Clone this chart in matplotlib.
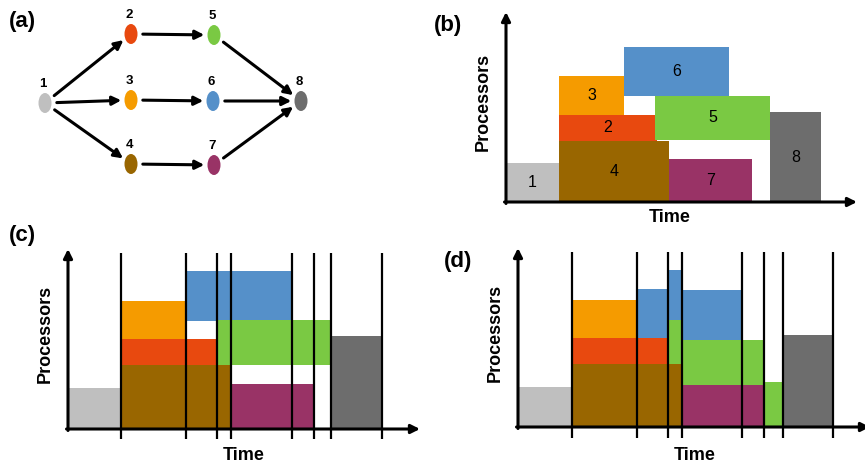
import matplotlib
matplotlib.use('Agg')
import matplotlib.pyplot as plt
from matplotlib.patches import Ellipse

plt.rcParams['font.family'] = ['Liberation Sans', 'DejaVu Sans']

W, H = 865, 466

# ---------------- data ----------------
task_colors = {1: '#BFBFBF', 2: '#E8490F', 3: '#F59B00', 4: '#996600',
               5: '#7AC943', 6: '#5590C9', 7: '#993366', 8: '#6D6D6D'}

# (a) task graph (node positions in the drawing)
node_ids = [1, 2, 3, 4, 5, 6, 7, 8]
node_x = [45, 131, 131, 131, 214, 213, 214, 301]
node_y = [103, 34, 100, 164, 35, 101, 165, 101]
edges = [(1, 2), (1, 3), (1, 4), (2, 5), (3, 6), (4, 7), (5, 8), (6, 8), (7, 8)]

# (b) schedule: task, start, end, bottom, top
b_task = [1, 4, 2, 3, 6, 5, 7, 8]
b_start = [0, 53, 53, 53, 118, 149, 163, 264]
b_end = [53, 163, 151, 118, 223, 264, 246, 315]
b_bottom = [0, 0, 61, 87, 106, 62, 0, 0]
b_top = [39, 61, 87, 126, 155, 106, 43, 90]

# (c) same schedule with event boundaries
c_task = [1, 4, 2, 3, 6, 5, 7, 8]
c_start = [0, 53, 53, 53, 118, 149, 163, 263]
c_end = [52, 163, 149, 118, 224, 263, 246, 314]
c_bottom = [0, 0, 64, 90, 108, 64, 0, 0]
c_top = [41, 64, 90, 128, 158, 109, 45, 93]
c_events = [53, 118, 149, 163, 224, 246, 263, 314]

# (d) re-packed schedule
d_task = [1, 4, 2, 3, 6, 6, 5, 6, 5, 7, 5, 8]
d_start = [0, 54, 54, 54, 119, 150, 150, 164, 164, 164, 246, 265]
d_end = [54, 164, 150, 119, 150, 164, 164, 224, 246, 246, 265, 315]
d_bottom = [0, 0, 63, 89, 89, 107, 63, 87, 42, 0, -1, 0]
d_top = [40, 63, 89, 127, 138, 157, 107, 137, 87, 42, 45, 92]
d_events = [54, 119, 150, 164, 224, 246, 265, 315]

# ---------------- figure ----------------
fig = plt.figure(figsize=(W / 100, H / 100), dpi=100)
base = fig.add_axes([0, 0, 1, 1])
base.set_xlim(0, W)
base.set_ylim(H, 0)
base.axis('off')

# (a) graph
pos = {n: (x, y) for n, x, y in zip(node_ids, node_x, node_y)}
for a, b in edges:
    base.annotate('', xy=pos[b], xytext=pos[a],
                  arrowprops=dict(arrowstyle='-|>', lw=2.2, color='black',
                                  shrinkA=8.5, shrinkB=7, mutation_scale=13))
for n in node_ids:
    x, y = pos[n]
    base.add_patch(Ellipse((x, y), 13, 20, facecolor=task_colors[n],
                           edgecolor='none', zorder=3))
    base.text(x - 2, y - 19, str(n), ha='center', va='center', fontsize=9.5,
              fontweight='bold', zorder=4)

panel_labels = ['(a)', '(b)', '(c)', '(d)']
panel_lx = [22, 448, 22, 458]
panel_ly = [21, 25, 236, 262]
for t, x, y in zip(panel_labels, panel_lx, panel_ly):
    base.text(x, y, t, ha='center', va='center', fontsize=16, fontweight='bold')


def gantt(ox, oy, xlen, ylen, tasks, st, en, bo, to, labels, events=None,
          ev_lo=-10, ev_hi=176, time_xy=(170, -22)):
    ax = fig.add_axes([ox / W, (H - oy) / H, xlen / W, ylen / H])
    ax.set_xlim(0, xlen)
    ax.set_ylim(0, ylen)
    ax.axis('off')
    for t, s, e, b0, t0 in zip(tasks, st, en, bo, to):
        ax.bar(s, t0 - b0, width=e - s, bottom=b0, align='edge',
               color=task_colors[t], edgecolor='none', clip_on=False, zorder=2)
        if labels:
            ax.text((s + e) / 2, (b0 + t0) / 2, str(t), ha='center', va='center',
                    fontsize=11.5, zorder=5)
    if events is not None:
        ax.vlines(events, ev_lo, ev_hi, color='black', lw=1.6, clip_on=False, zorder=4)
    ax.annotate('', xy=(0, ylen), xytext=(0, -1.5), annotation_clip=False,
                arrowprops=dict(arrowstyle='-|>', lw=2.2, color='black',
                                shrinkA=0, shrinkB=0, mutation_scale=13))
    ax.annotate('', xy=(xlen, 0), xytext=(-1.5, 0), annotation_clip=False,
                arrowprops=dict(arrowstyle='-|>', lw=2.2, color='black',
                                shrinkA=0, shrinkB=0, mutation_scale=13))
    ax.text(-23, ylen * 0.5 + 5, 'Processors', rotation=90, ha='center', va='center',
            fontsize=13, fontweight='bold')
    ax.text(time_xy[0], time_xy[1], 'Time', ha='center', va='center',
            fontsize=13, fontweight='bold')
    return ax


gantt(506, 202, 351, 190, b_task, b_start, b_end, b_bottom, b_top, True,
      time_xy=(164, -16))
gantt(68, 429, 352, 180, c_task, c_start, c_end, c_bottom, c_top, False,
      events=c_events, ev_lo=-10, ev_hi=176, time_xy=(176, -27))
gantt(518, 427, 352, 179, d_task, d_start, d_end, d_bottom, d_top, False,
      events=d_events, ev_lo=-11, ev_hi=175, time_xy=(177, -28))

fig.savefig('out.png', dpi=100)
